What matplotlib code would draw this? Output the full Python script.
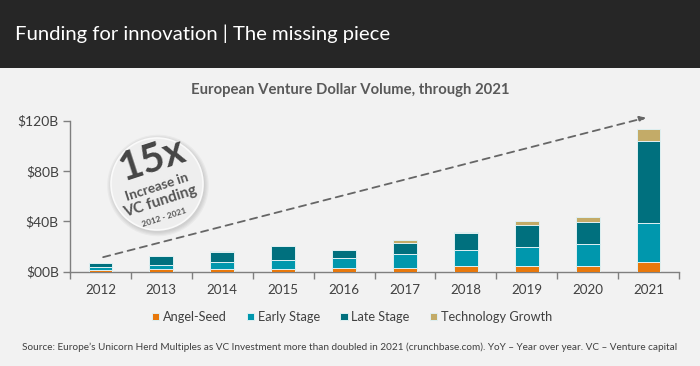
import matplotlib
matplotlib.use("Agg")

import matplotlib.pyplot as plt
import numpy as np
from matplotlib.patches import Circle, Rectangle

# ---- dados (em $B) ----
years = ["2012", "2013", "2014", "2015", "2016", "2017", "2018", "2019", "2020", "2021"]
angel_seed = [1.6, 1.9, 2.1, 2.1, 2.7, 3.2, 4.3, 4.8, 4.8, 7.5]
early_stage = [2.4, 3.7, 5.4, 6.9, 7.9, 11.1, 12.7, 14.8, 17.0, 31.0]
late_stage = [3.2, 6.9, 7.9, 11.4, 6.9, 8.3, 13.5, 17.8, 17.9, 65.5]
tech_growth = [0.0, 0.0, 1.3, 0.0, 0.0, 2.6, 1.1, 3.1, 3.5, 9.4]
series_names = ["Angel-Seed", "Early Stage", "Late Stage", "Technology Growth"]
y_ticks = [0, 40, 80, 120]
y_tick_labels = ["$00B", "$40B", "$80B", "$120B"]

colors = ["#e8780c", "#0097ad", "#00707e", "#c3ab68"]
FONT = "Lato"
TXT = "#404040"

fig = plt.figure(figsize=(7, 3.66), dpi=100)
fig.patch.set_facecolor("#f2f2f2")

# ---- cabecalho escuro ----
fig.patches.append(Rectangle((0, 1 - 68 / 366), 1, 68 / 366, transform=fig.transFigure,
                             facecolor="#262626", edgecolor="none", zorder=0))
fig.text(15 / 700, 1 - 34 / 366, "Funding for innovation | The missing piece",
         color="white", fontsize=14.6, family=FONT, va="center", ha="left")

fig.text(0.5, 1 - 90 / 366, "European Venture Dollar Volume, through 2021",
         color="#595959", fontsize=10.7, fontweight="bold", family=FONT,
         ha="center", va="center")

# ---- grafico ----
ax = fig.add_axes([70 / 700, 1 - 271.7 / 366, 609 / 700, 151 / 366])
ax.set_facecolor("none")
x = np.arange(len(years))
bottom = np.zeros(len(years))
for vals, name, c in zip([angel_seed, early_stage, late_stage, tech_growth], series_names, colors):
    ax.bar(x, vals, width=0.39, bottom=bottom, color=c, edgecolor="#dff0f2",
           linewidth=0.7, label=name, zorder=3)
    bottom += np.array(vals)

ax.set_xlim(-0.5, len(years) - 0.5)
ax.set_ylim(0, 120)
ax.set_yticks(y_ticks)
ax.set_yticklabels(y_tick_labels, family=FONT, fontsize=10, color=TXT)
ax.set_xticks(x)
ax.set_xticklabels(years, family=FONT, fontsize=9.6, color=TXT)
ax.tick_params(axis="x", length=0, pad=9)
ax.set_xticks(np.arange(-0.5, len(years)), minor=True)
ax.tick_params(axis="x", which="minor", length=5, color="#7f7f7f", width=1)
ax.tick_params(axis="y", length=5, color="#7f7f7f", width=1, pad=3)
for s in ["top", "right"]:
    ax.spines[s].set_visible(False)
for s in ["left", "bottom"]:
    ax.spines[s].set_color("#7f7f7f")
    ax.spines[s].set_linewidth(1)

# seta tracejada de tendencia
ax.annotate("", xy=(9.0, 123), xytext=(0, 11),
            arrowprops=dict(arrowstyle="-|>", color="#666666", lw=1.3,
                            linestyle=(0, (4, 3)), mutation_scale=9),
            annotation_clip=False, zorder=4)

# ---- selo 15x ----
cx, cy, r = 1.57, (366 - 184) / 100, 0.46
for k in range(4):
    fig.patches.append(Circle((cx + 0.01, cy - 0.015), r + 0.012 + k * 0.012,
                              transform=fig.dpi_scale_trans, facecolor="#000000",
                              alpha=0.035, edgecolor="none", zorder=5))
fig.patches.append(Circle((cx, cy), r, transform=fig.dpi_scale_trans,
                          facecolor="#eeeeee", edgecolor="#fafafa", lw=1.2, zorder=6))
rot = 18
fig.text(1.52 / 7, (366 - 160) / 366, "15x", fontsize=29, fontweight="bold", color="#454545",
         family=FONT, rotation=rot, ha="center", va="center", rotation_mode="anchor", zorder=7)
fig.text(1.57 / 7, (366 - 187) / 366, "Increase in", fontsize=9.8, fontweight="bold",
         color="#555555", family=FONT, rotation=rot, ha="center", va="center",
         rotation_mode="anchor", zorder=7)
fig.text(1.60 / 7, (366 - 202) / 366, "VC funding", fontsize=11, fontweight="bold",
         color="#555555", family=FONT, rotation=rot, ha="center", va="center",
         rotation_mode="anchor", zorder=7)
fig.text(1.64 / 7, (366 - 217) / 366, "2012 - 2021", fontsize=6, fontweight="bold",
         color="#555555", family=FONT, rotation=rot, ha="center", va="center",
         rotation_mode="anchor", zorder=7)

# ---- legenda ----
leg = fig.legend(loc="center", bbox_to_anchor=(352 / 700, 1 - 317 / 366), ncol=4, frameon=False,
                 handlelength=0.55, handleheight=0.55, handletextpad=0.3, columnspacing=1.6,
                 prop={"family": FONT, "size": 9.2})
for t in leg.get_texts():
    t.set_color(TXT)

fig.text(0.5, 1 - 347 / 366,
         "Source: Europe\u2019s Unicorn Herd Multiples as VC Investment more than doubled in 2021 "
         "(crunchbase.com). YoY \u2013 Year over year. VC \u2013 Venture capital",
         fontsize=7.2, family=FONT, color=TXT, ha="center", va="center")

fig.savefig("out.png", dpi=100, facecolor=fig.get_facecolor())
